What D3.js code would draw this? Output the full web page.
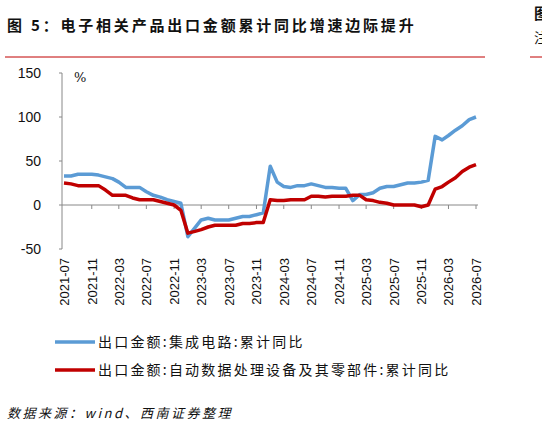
<!DOCTYPE html>
<html><head><meta charset="utf-8">
<script src="https://cdn.jsdelivr.net/npm/d3@7"></script>
<style>body{margin:0;background:#fff}</style>
</head><body><div id="container"></div>
<script>
let blue = "#5B9BD5";
let red = "#C00000";
let fontCN = "Noto Sans CJK SC";

let startMonth = new Date(2021, 6, 1);
let tickLabels = ["2021-07","2021-11","2022-03","2022-07","2022-11","2023-03","2023-07","2023-11","2024-03","2024-07","2024-11","2025-03","2025-07","2025-11","2026-03","2026-07"];
let yTicks = [-50, 0, 50, 100, 150];
let icValues = [33,33,35,35,35,34,32,30,26,20,20,20,15,11,9,6,4,2,
  -36,-26,-17,-15,-17,-17,-17,-15,-13,-13,-11,-9,
  44,26,21,20,22,22,24,22,20,20,19,19,
  5,12,12,14,19,21,21,23,25,25,26,28,
  78,74,79,85,90,97,100];
let pcValues = [25,24,22,22,22,22,17,11,11,11,8,6,6,6,4,2,0,-6,
  -32,-30,-28,-25,-23,-23,-23,-23,-21,-21,-20,-20,
  6,5,5,6,6,6,10,10,9,10,10,10,
  11,11,6,5,3,2,0,0,0,0,-2,0,
  18,21,26,31,38,43,46];
let seriesNames = ["出口金额:集成电路:累计同比", "出口金额:自动数据处理设备及其零部件:累计同比"];

let viz = d3.select("#container").append("svg")
  .attr("width", 542).attr("height", 426);

viz.append("text").text("图 5：电子相关产品出口金额累计同比增速边际提升")
  .attr("x", 7).attr("y", 31).attr("font-family", fontCN).attr("letter-spacing", 2.8)
  .attr("font-weight", "bold").attr("font-size", 15).attr("fill", "#111");
viz.append("line").attr("x1", 5).attr("x2", 485).attr("y1", 57).attr("y2", 57)
  .attr("stroke", red).attr("stroke-width", 1);
viz.append("line").attr("x1", 530).attr("x2", 542).attr("y1", 57).attr("y2", 57)
  .attr("stroke", red).attr("stroke-width", 1);
viz.append("text").text("图").attr("x", 534).attr("y", 19).attr("font-family", fontCN)
  .attr("font-weight", "bold").attr("font-size", 15).attr("fill", "#111");
viz.append("text").text("注").attr("x", 534).attr("y", 43).attr("font-family", fontCN)
  .attr("font-size", 14).attr("fill", "#111");

let months = icValues.map((d, i) => d3.timeMonth.offset(startMonth, i));
let x = d3.scaleTime().domain([months[0], months[months.length - 1]]).range([64, 476]);
let y = d3.scaleLinear().domain([-50, 150]).range([249, 73]);

// y axis
viz.append("line").attr("x1", 62).attr("x2", 62).attr("y1", y(150)).attr("y2", y(-50)).attr("stroke", "#888");
viz.selectAll(".yt").data(yTicks).enter().append("line")
  .attr("x1", 59).attr("x2", 62).attr("y1", d => y(d)).attr("y2", d => y(d)).attr("stroke", "#888");
viz.selectAll(".yl").data(yTicks).enter().append("text").text(d => d)
  .attr("x", 41).attr("y", d => y(d) + 5).attr("text-anchor", "end")
  .attr("font-family", "Liberation Sans").attr("font-size", 14).attr("fill", "#111");
viz.append("text").text("%").attr("x", 74).attr("y", 82)
  .attr("font-family", "DejaVu Serif").attr("font-size", 13).attr("fill", "#111");

// x axis at zero
viz.append("line").attr("x1", 62).attr("x2", 478).attr("y1", y(0)).attr("y2", y(0)).attr("stroke", "#888");
let tickDates = tickLabels.map(s => new Date(+s.slice(0, 4), +s.slice(5) - 1, 1));
viz.selectAll(".xt").data(tickDates.slice(1)).enter().append("line")
  .attr("x1", d => x(d)).attr("x2", d => x(d)).attr("y1", y(0)).attr("y2", y(0) + 4).attr("stroke", "#888");
viz.selectAll(".xl").data(tickLabels).enter().append("text").text(d => d)
  .attr("transform", (d, i) => "translate(" + (x(tickDates[i]) + 5) + ",258) rotate(-90)")
  .attr("text-anchor", "end").attr("font-family", "Liberation Sans")
  .attr("font-size", 13).attr("fill", "#111");

let line = d3.line().x((d, i) => x(months[i])).y(d => y(d));
viz.append("path").attr("d", line(icValues)).attr("fill", "none")
  .attr("stroke", blue).attr("stroke-width", 3.5).attr("stroke-linejoin", "round");
viz.append("path").attr("d", line(pcValues)).attr("fill", "none")
  .attr("stroke", red).attr("stroke-width", 3.5).attr("stroke-linejoin", "round");

// legend
[blue, red].forEach((c, i) => {
  viz.append("line").attr("x1", 55).attr("x2", 95).attr("y1", 342 + i * 28).attr("y2", 342 + i * 28)
    .attr("stroke", c).attr("stroke-width", 3.5);
  viz.append("text").text(seriesNames[i]).attr("x", 98).attr("y", 347 + i * 28)
    .attr("font-family", fontCN).attr("font-size", 14).attr("letter-spacing", 2.2).attr("fill", "#111");
});

viz.append("text").text("数据来源：wind、西南证券整理").attr("x", 7).attr("y", 418)
  .attr("font-family", fontCN).attr("font-style", "italic").attr("font-size", 13)
  .attr("letter-spacing", 2.5).attr("fill", "#111");
</script></body></html>
